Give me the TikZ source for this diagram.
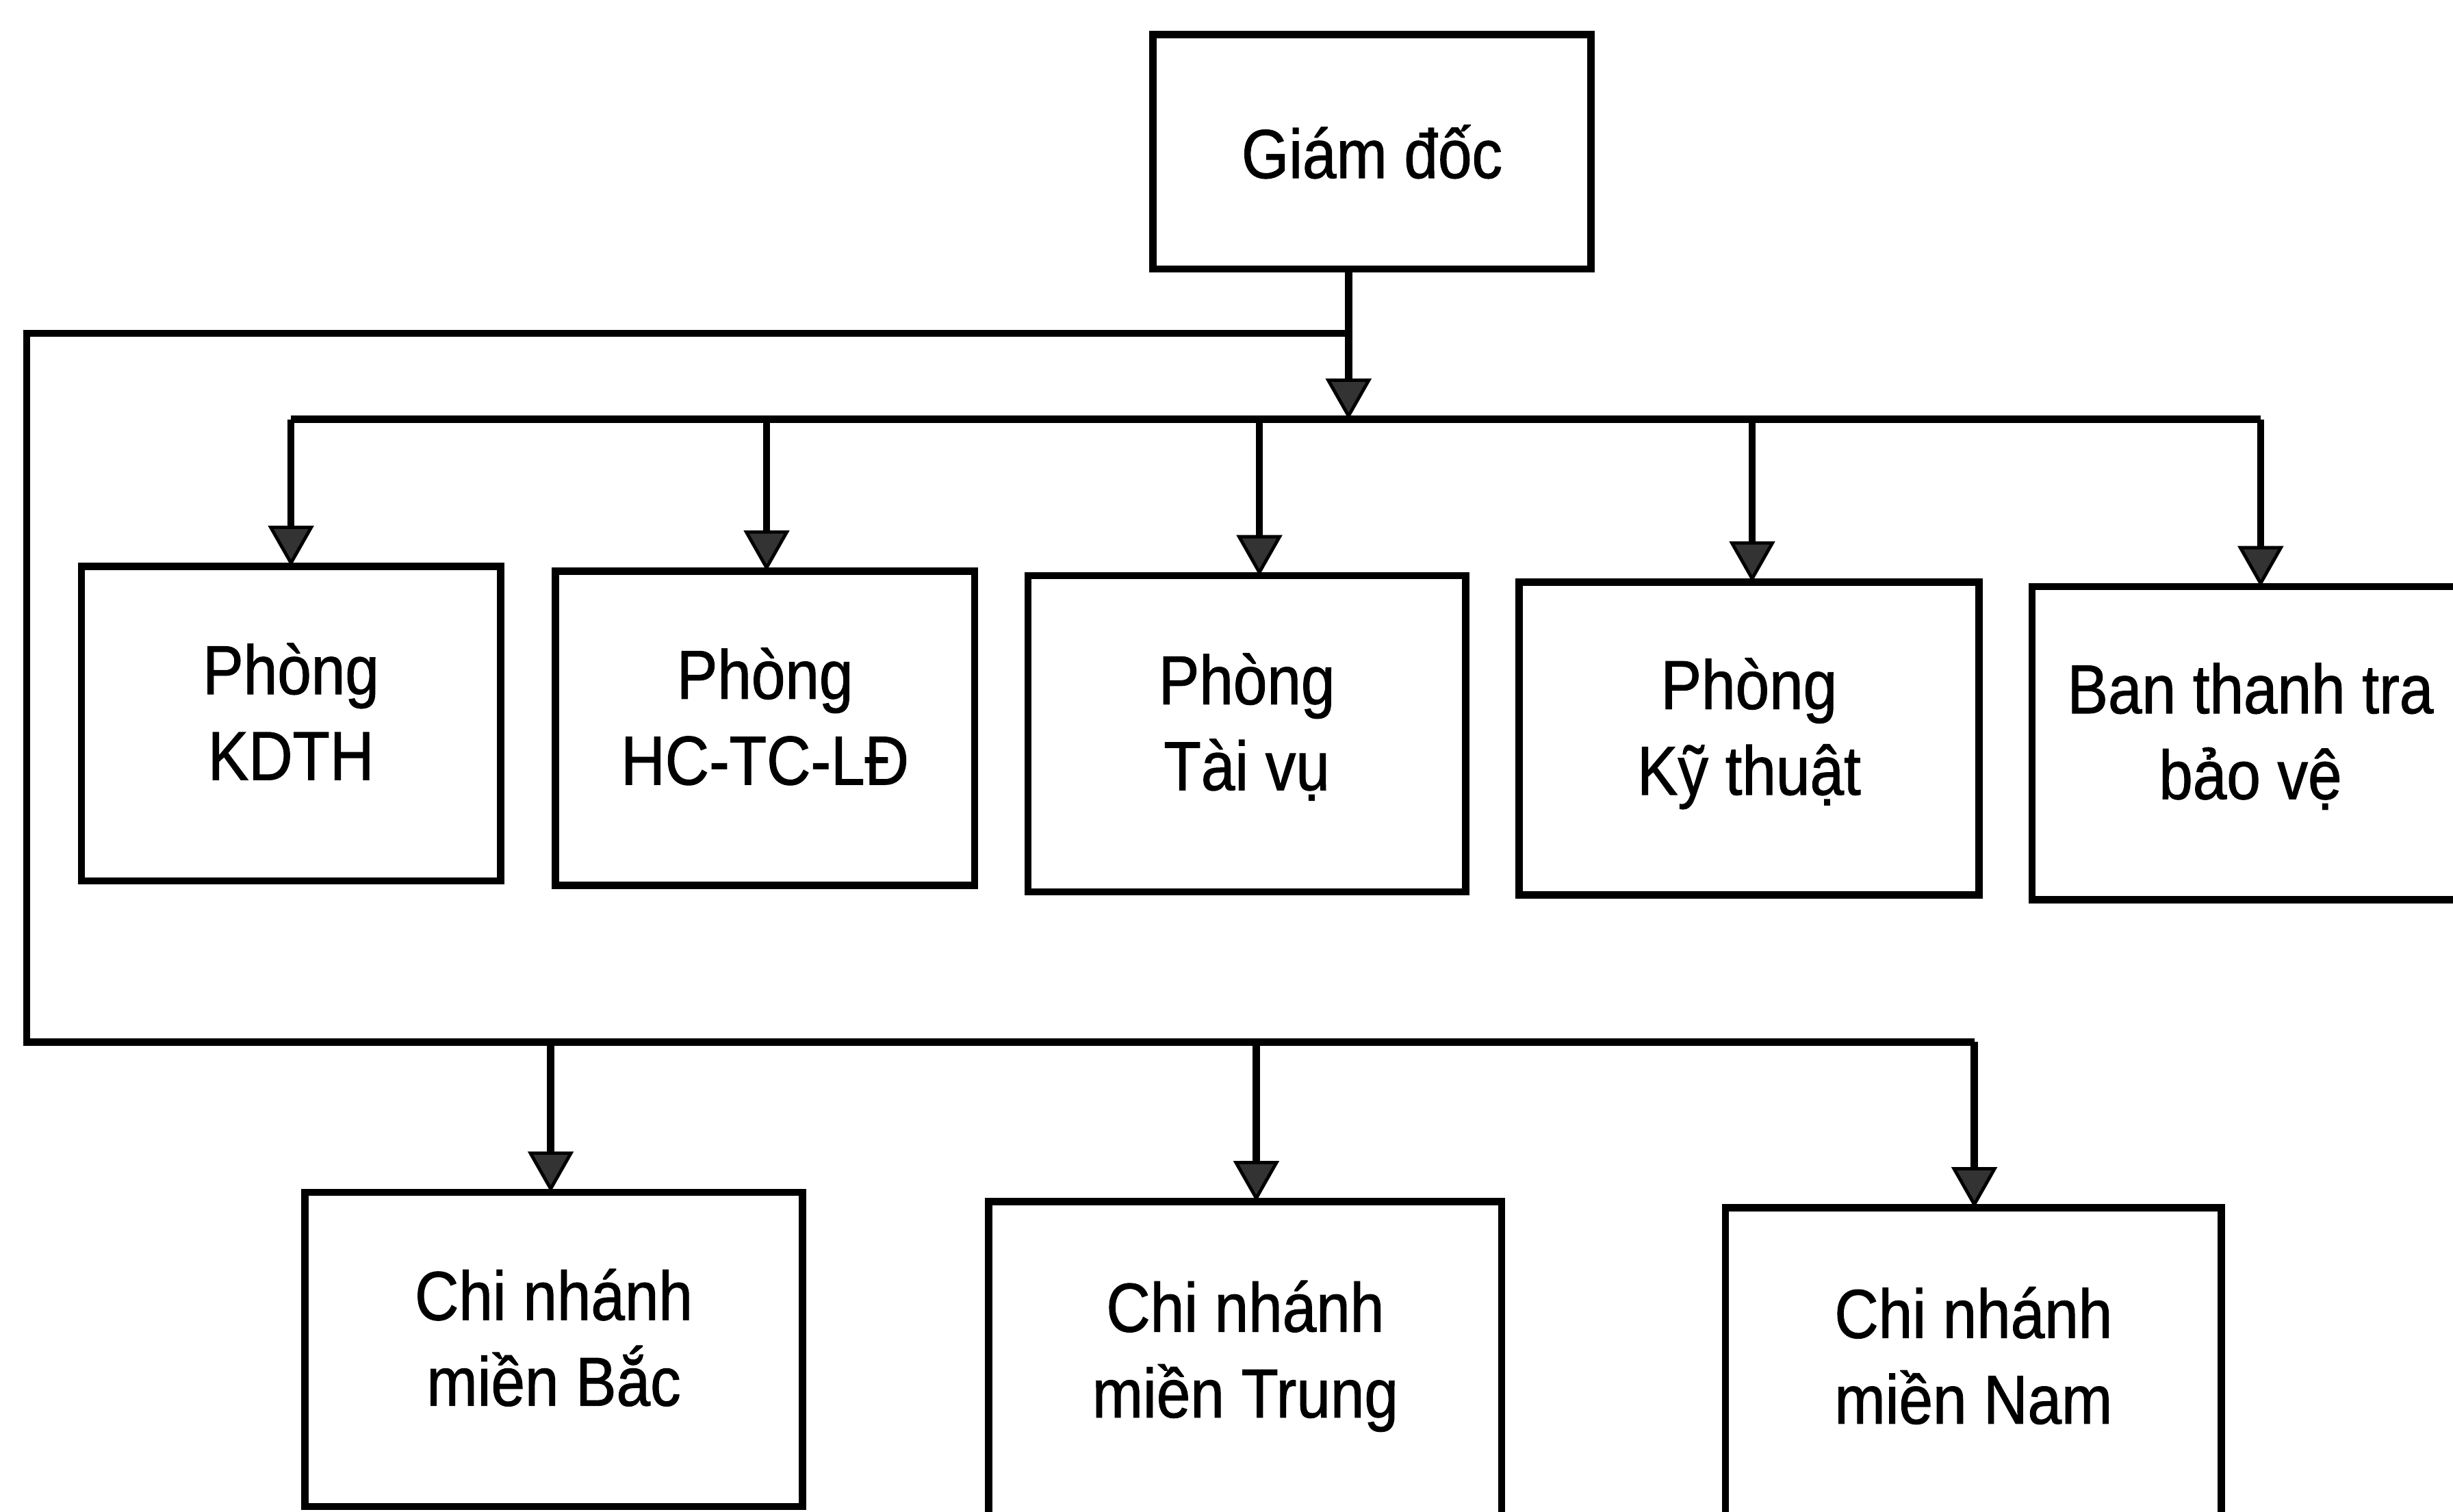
\documentclass[tikz,border=0pt]{standalone}
\usepackage{fontspec}
\setmainfont{Liberation Sans}[FakeStretch=0.88,FakeBold=1]
\usetikzlibrary{arrows.meta}
\begin{document}
\begin{tikzpicture}[x=0.05cm,y=-0.05cm,
  conn/.style={line width=6.5pt,line join=miter},
  arr/.style={conn,-{Triangle[width=1.45cm,length=1.3cm,line width=3pt,fill=black!80]}},
  box/.style={draw,line width=6.5pt,rectangle,anchor=north west,inner sep=0pt,outer sep=0pt,align=center,font=\fontsize{63}{78}\selectfont},
  two/.style={text depth=22pt}]
\useasboundingbox (0,0) rectangle (1568,966);
% boxes
\node[box,minimum width=14cm,minimum height=7.5cm] (gd) at (737,22) {Giám đốc};
\node[box,two,minimum width=13.4cm,minimum height=10.05cm] (kdth) at (52,362) {Phòng\\KDTH};
\node[box,two,minimum width=13.4cm,minimum height=10.05cm] (hc) at (355,365) {Phòng\\HC-TC-LĐ};
\node[box,two,minimum width=14cm,minimum height=10.1cm] (tv) at (657,368) {Phòng\\Tài vụ};
\node[box,two,minimum width=14.7cm,minimum height=10cm] (kt) at (971,372) {Phòng\\Kỹ thuật};
\node[box,two,minimum width=13.95cm,minimum height=10cm] (ban) at (1299,375) {Ban thanh tra\\bảo vệ};
\node[box,two,minimum width=15.9cm,minimum height=10.05cm] (bac) at (195,762) {Chi nhánh\\miền Bắc};
\node[box,two,minimum width=16.4cm,minimum height=10.2cm] (trung) at (632,768) {Chi nhánh\\miền Trung};
\node[box,two,minimum width=15.85cm,minimum height=10.2cm] (nam) at (1103,772) {Chi nhánh\\miền Nam};
% junctions
\coordinate (j) at (862,268);
\coordinate (lj) at (862,213);
\coordinate (l1) at (17,213);
\coordinate (l2) at (17,666);
\coordinate (b1) at (186,268);
\coordinate (b2) at (490,268);
\coordinate (b3) at (805,268);
\coordinate (b4) at (1120,268);
\coordinate (b5) at (1445,268);
\coordinate (c1) at (352,666);
\coordinate (c2) at (803,666);
\coordinate (c3) at (1262,666);
% connectors
\draw[arr] (gd.south -| j) -- (j);
\draw[conn] (lj) -- (l1) -- (l2) -- (c3);
\draw[conn] (b1) -- (b5);
\draw[arr] (b1) -- (b1 |- kdth.north);
\draw[arr] (b2) -- (b2 |- hc.north);
\draw[arr] (b3) -- (b3 |- tv.north);
\draw[arr] (b4) -- (b4 |- kt.north);
\draw[arr] (b5) -- (b5 |- ban.north);
\draw[arr] (c1) -- (c1 |- bac.north);
\draw[arr] (c2) -- (c2 |- trung.north);
\draw[arr] (c3) -- (c3 |- nam.north);
\end{tikzpicture}
\end{document}
